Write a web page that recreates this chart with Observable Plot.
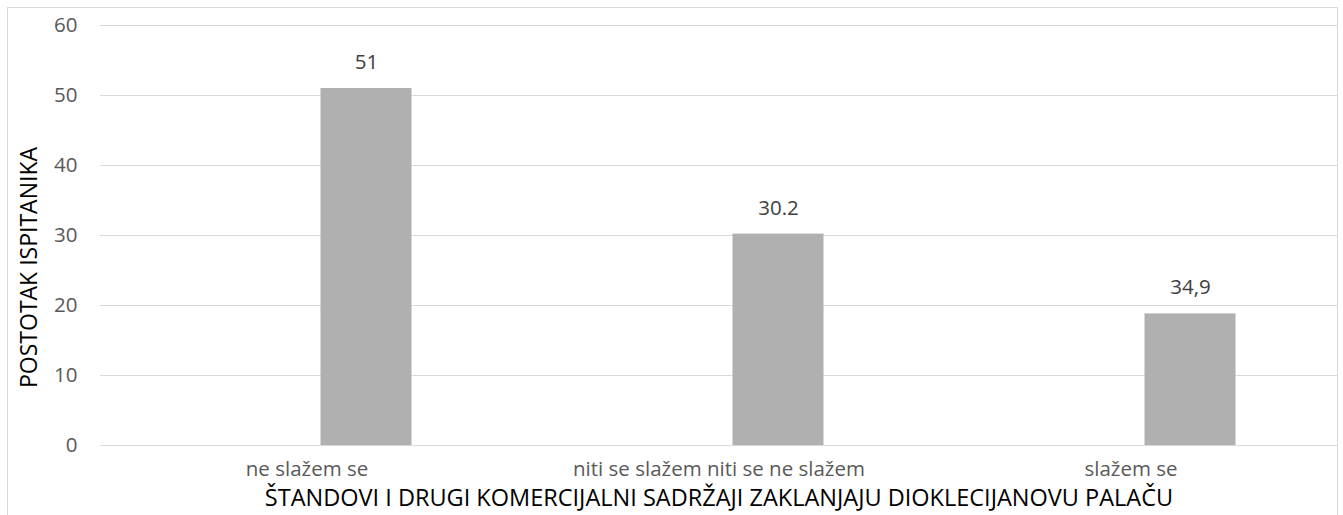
<!DOCTYPE html>
<html><head><meta charset="utf-8">
<script src="https://cdn.jsdelivr.net/npm/d3@7"></script>
<script src="https://cdn.jsdelivr.net/npm/@observablehq/plot@0.6"></script>
<style>
html,body{margin:0;padding:0;background:#fff;}
#frame{position:absolute;left:7px;top:7px;width:1329px;height:520px;border:1px solid #d9d9d9;border-bottom:none;overflow:hidden;background:#fff;}
#frame svg{display:block;}
</style></head><body><div id="frame"></div>
<script>
const categories = ["ne slažem se", "niti se slažem niti se ne slažem", "slažem se"];
const values = [51, 30.2, 18.8];
const valueLabels = ["51", "30.2", "34,9"];
const yTicks = [0, 10, 20, 30, 40, 50, 60];
const xTitle = "ŠTANDOVI I DRUGI KOMERCIJALNI SADRŽAJI ZAKLANJAJU DIOKLECIJANOVU PALAČU";
const yTitle = "POSTOTAK ISPITANIKA";

const data = categories.map((c, i) => ({category: c, value: values[i], label: valueLabels[i]}));
const font = "'Open Sans', sans-serif";

const chart = Plot.plot({
  width: 1329, height: 507,
  marginLeft: 92, marginRight: 0, marginTop: 17, marginBottom: 70,
  style: {fontFamily: font, background: "#fff", overflow: "visible"},
  x: {domain: categories, paddingInner: 0.779, paddingOuter: 0.3895, label: null},
  y: {domain: [0, 60], label: null},
  marks: [
    Plot.gridY(yTicks, {stroke: "#d9d9d9", strokeOpacity: 1, strokeWidth: 1}),
    Plot.barY(data, {x: "category", y: "value", fill: "#b0b0b0", dx: 59.5}),
    Plot.text(data, {x: "category", y: "value", text: "label", dx: 59.5, dy: -26, fontSize: 20.5, fill: "#404040"}),
    Plot.axisY(yTicks, {tickSize: 0, tickPadding: 23, fontSize: 20.5, color: "#595959", label: null}),
    Plot.axisX({tickSize: 0, tickPadding: 16, fontSize: 20.5, color: "#595959", label: null}),
    Plot.text([xTitle], {text: d => d, frameAnchor: "bottom", textAnchor: "middle", dy: 60.5, fontSize: 23.5, fill: "#000"}),
    Plot.text([yTitle], {text: d => d, frameAnchor: "left", textAnchor: "middle", dx: -71, dy: 32, rotate: -90, fontSize: 23, fill: "#000"})
  ]
});
document.getElementById("frame").appendChild(chart);
</script>
</body></html>
